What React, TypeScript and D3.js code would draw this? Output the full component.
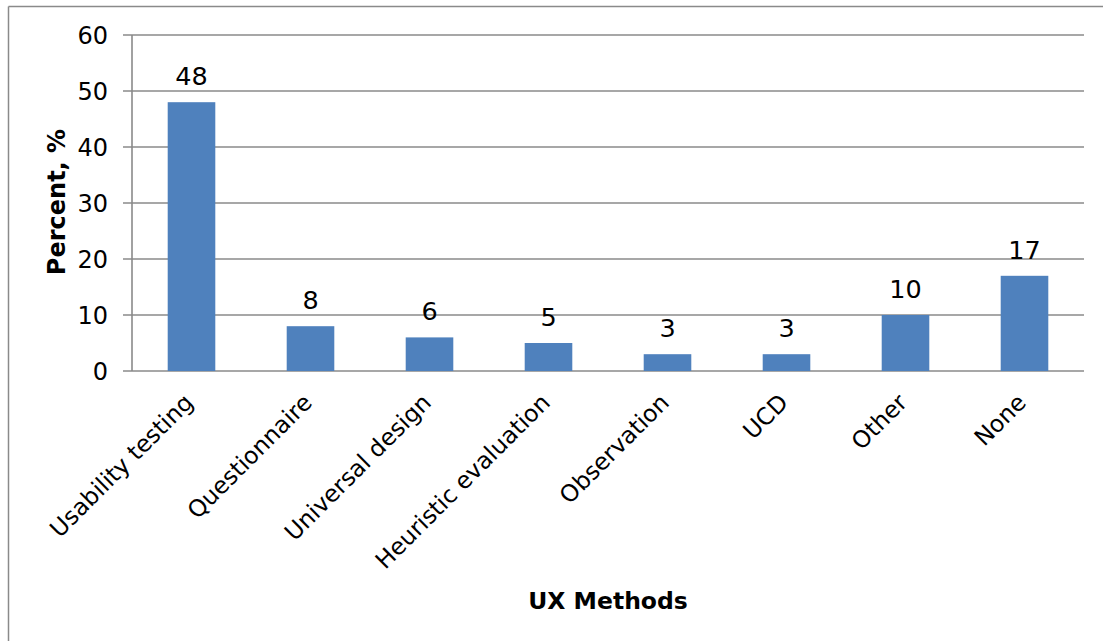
import React from "react";
import * as d3 from "d3";

const categories = ["Usability testing", "Questionnaire", "Universal design", "Heuristic evaluation", "Observation", "UCD", "Other", "None"];
const values = [48, 8, 6, 5, 3, 3, 10, 17];
const yTicks = [0, 10, 20, 30, 40, 50, 60];

const W = 1103;
const H = 641;
const m = { left: 132, right: 1084, top: 35, bottom: 371 };
const FONT = "'DejaVu Sans', Verdana, sans-serif";

export default function App() {
  const x = d3.scaleBand<string>().domain(categories).range([m.left, m.right]).paddingInner(0.6).paddingOuter(0.3);
  const y = d3.scaleLinear().domain([0, 60]).range([m.bottom, m.top]);
  const grid = "#8a8a8a";
  return (
    <svg width={W} height={H} style={{ position: "absolute", left: 0, top: 0, background: "#fff" }} fontFamily={FONT}>
      <rect x={0} y={0} width={W} height={H} fill="#fff" />
      <line x1={8.5} y1={6.5} x2={W} y2={6.5} stroke="#8a8a8a" strokeWidth={1.5} />
      <line x1={8.5} y1={6.5} x2={8.5} y2={H} stroke="#8a8a8a" strokeWidth={1.5} />
      {yTicks.map((t) => (
        <g key={t}>
          <line x1={m.left - 9} x2={m.right} y1={y(t)} y2={y(t)} stroke={grid} strokeWidth={1.6} />
          <text x={108} y={y(t)} dy="0.36em" textAnchor="end" fontSize={24} fill="#000">{t}</text>
        </g>
      ))}
      <line x1={m.left} x2={m.left} y1={m.top} y2={m.bottom} stroke={grid} strokeWidth={1.6} />
      {categories.map((c, i) => (
        <g key={c}>
          <rect x={x(c)} y={y(values[i])} width={x.bandwidth()} height={y(0) - y(values[i])} fill="#4F81BD" />
          <text x={(x(c) as number) + x.bandwidth() / 2} y={y(values[i]) - 17} textAnchor="middle" fontSize={25.5} fill="#000">{values[i]}</text>
          <text transform={`translate(${(x(c) as number) + x.bandwidth() / 2 + 3},${404}) rotate(-45)`} textAnchor="end" fontSize={23.5} fill="#000">{c}</text>
        </g>
      ))}
      <text transform={`translate(${65},${202}) rotate(-90)`} textAnchor="middle" fontSize={24} fontWeight="bold" fill="#000">Percent, %</text>
      <text x={(m.left + m.right) / 2} y={609} textAnchor="middle" fontSize={23.5} fontWeight="bold" fill="#000">UX Methods</text>
    </svg>
  );
}
